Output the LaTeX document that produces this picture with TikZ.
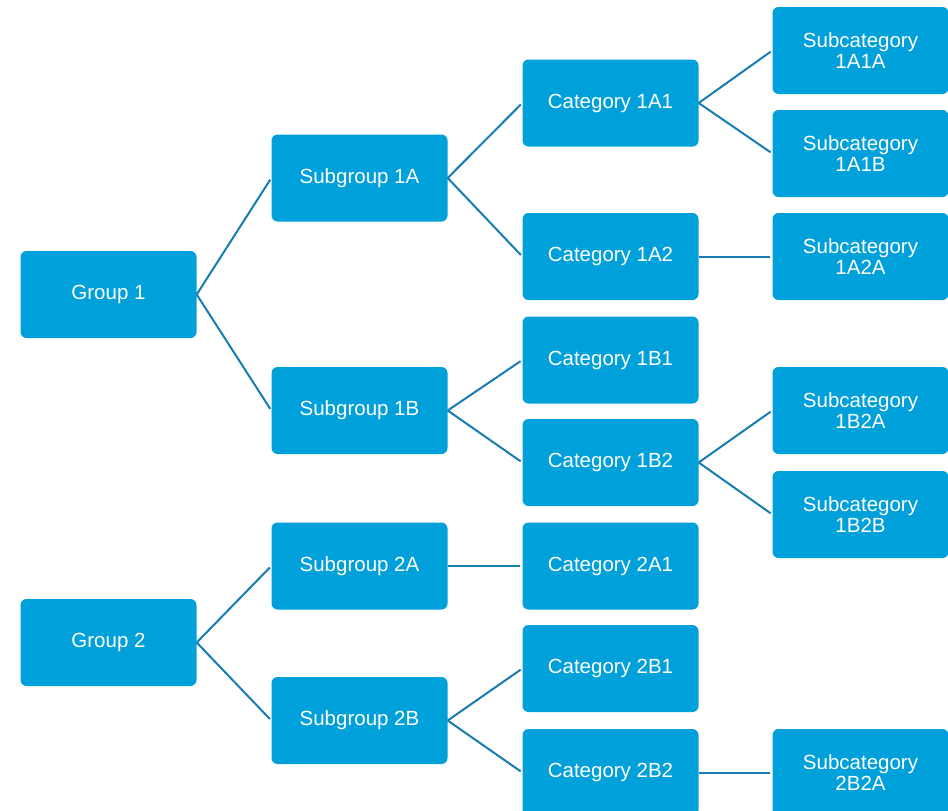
\documentclass[tikz,border=0pt]{standalone}
\usepackage{fontspec}
\setmainfont{Liberation Sans}
\definecolor{boxblue}{RGB}{0,160,218}
\definecolor{lineblue}{RGB}{22,124,178}
\begin{document}
\begin{tikzpicture}[x=1pt,y=-1pt,
  box/.style={draw=none,fill=boxblue,rounded corners=6pt,minimum width=176pt,minimum height=87pt,
    inner sep=0pt,text=white,align=center,font=\fontsize{20.5}{21}\selectfont},
  conn/.style={draw=lineblue,line width=2pt,shorten >=2pt}]
\useasboundingbox (0,0) rectangle (948,811);
\node[box] (g1) at (108.5,294.5) {Group 1};
\node[box] (g2) at (108.5,642.5) {Group 2};
\node[box] (s1A) at (359.5,178) {Subgroup 1A};
\node[box] (s1B) at (359.5,410.5) {Subgroup 1B};
\node[box] (s2A) at (359.5,566) {Subgroup 2A};
\node[box] (s2B) at (359.5,720.5) {Subgroup 2B};
\node[box] (c1A1) at (610.5,103) {Category 1A1};
\node[box] (c1A2) at (610.5,256.5) {Category 1A2};
\node[box] (c1B1) at (610.5,360) {Category 1B1};
\node[box] (c1B2) at (610.5,462.5) {Category 1B2};
\node[box] (c2A1) at (610.5,566) {Category 2A1};
\node[box] (c2B1) at (610.5,668.5) {Category 2B1};
\node[box] (c2B2) at (610.5,772.5) {Category 2B2};
\node[box] (d1A1A) at (860.5,50.5) {Subcategory\\1A1A};
\node[box] (d1A1B) at (860.5,153.5) {Subcategory\\1A1B};
\node[box] (d1A2A) at (860.5,256.5) {Subcategory\\1A2A};
\node[box] (d1B2A) at (860.5,410.5) {Subcategory\\1B2A};
\node[box] (d1B2B) at (860.5,514.5) {Subcategory\\1B2B};
\node[box] (d2B2A) at (860.5,772.5) {Subcategory\\2B2A};
\foreach \a/\b in {g1/s1A,g1/s1B,g2/s2A,g2/s2B,s1A/c1A1,s1A/c1A2,s1B/c1B1,s1B/c1B2,s2A/c2A1,s2B/c2B1,s2B/c2B2,c1A1/d1A1A,c1A1/d1A1B,c1A2/d1A2A,c1B2/d1B2A,c1B2/d1B2B,c2B2/d2B2A}
  \draw[conn] (\a.east) -- (\b.west);
\end{tikzpicture}
\end{document}
